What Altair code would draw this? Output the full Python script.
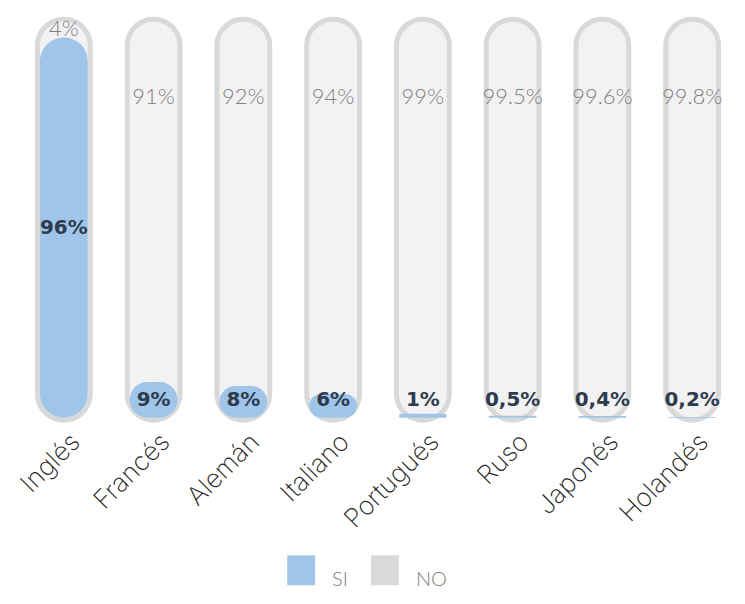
import altair as alt
import pandas as pd

languages = ["Inglés", "Francés", "Alemán", "Italiano", "Portugués", "Ruso", "Japonés", "Holandés"]
si_values = [96, 9, 8, 6, 1, 0.5, 0.4, 0.2]
no_labels = ["4%", "91%", "92%", "94%", "99%", "99.5%", "99.6%", "99.8%"]
si_labels = ["96%", "9%", "8%", "6%", "1%", "0,5%", "0,4%", "0,2%"]
series = ["SI", "NO"]
series_colors = ["#9fc5e8", "#d9d9d9"]

df = pd.DataFrame({
    "idioma": languages,
    "si": si_values,
    "no_label": no_labels,
    "si_label": si_labels,
})

x = alt.X(
    "idioma:N", sort=languages,
    scale=alt.Scale(paddingInner=0, paddingOuter=0),
    axis=alt.Axis(title=None, labelAngle=-45, labelAlign="right", labelBaseline="middle",
                  labelFont="Inter", labelFontWeight=200, labelFontSize=26,
                  labelColor="#222222", labelPadding=20, labelOffset=12,
                  ticks=False, domain=False),
)
yscale = alt.Scale(domain=[0, 100], nice=False, zero=True)
color_scale = alt.Scale(domain=series, range=series_colors)
legend = alt.Legend(
    title=None, orient="none", legendX=268, legendY=535, direction="horizontal",
    symbolType="M-0.93,-1H0.93V1H-0.93Z", symbolSize=900, symbolStrokeWidth=0,
    labelFont="Lato", labelFontWeight=300, labelFontSize=20, labelColor="#808080",
    labelOffset=16, columnPadding=22, labelBaseline="top", padding=0,
)

base = alt.Chart(df).encode(x=x)

outer = base.transform_calculate(serie="'NO'").mark_bar(
    width=58, cornerRadius=29, yOffset=-5, y2Offset=5
).encode(
    y=alt.Y(datum=100, scale=yscale, axis=None),
    y2=alt.Y2(datum=0),
    color=alt.Color("serie:N", scale=color_scale, legend=legend),
)

inner = base.mark_bar(width=48, cornerRadius=24, color="#f2f2f2").encode(
    y=alt.Y(datum=100, scale=yscale, axis=None),
    y2=alt.Y2(datum=0),
)

blue = base.transform_calculate(serie="'SI'").mark_bar(width=48, cornerRadius=24).encode(
    y=alt.Y("si:Q", scale=yscale, axis=None),
    y2=alt.Y2(datum=0),
    color=alt.Color("serie:N", scale=color_scale, legend=legend),
)

no_text = base.transform_calculate(ny="datum.si > 50 ? 98.2 : 81").mark_text(
    font="Lato", fontWeight=300, fontSize=22, color="#808080", baseline="middle"
).encode(
    y=alt.Y("ny:Q", scale=yscale, axis=None),
    text="no_label:N",
)

si_text = base.transform_calculate(sy="max(datum.si / 2, 4.5)").mark_text(
    font="DejaVu Sans", fontWeight="bold", fontSize=20, color="#2e3b4e", baseline="middle"
).encode(
    y=alt.Y("sy:Q", scale=yscale, axis=None),
    text="si_label:N",
)

chart = alt.layer(outer, inner, blue, no_text, si_text).properties(
    width=720, height=397,
    autosize=alt.AutoSizeParams(type="none"),
    padding={"left": 11, "top": 13, "right": 0, "bottom": 176},
).configure_view(stroke=None)

chart.save("out.html", embed_options={"renderer": "svg", "actions": False})
